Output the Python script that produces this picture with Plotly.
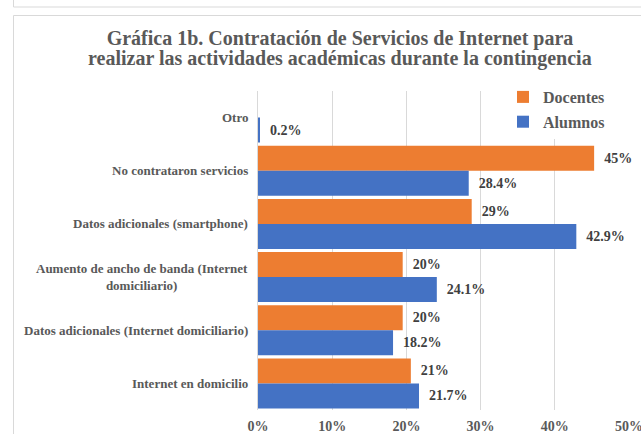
import plotly.graph_objects as go

# ---- data ----
categories = [
    "Otro",
    "No contrataron servicios",
    "Datos adicionales (smartphone)",
    "Aumento de ancho de banda (Internet<br>domiciliario)",
    "Datos adicionales (Internet domiciliario)",
    "Internet en domicilio",
]
docentes = [None, 45.3, 28.8, 19.5, 19.5, 20.6]
docentes_labels = ["", "45%", "29%", "20%", "20%", "21%"]
alumnos = [0.2, 28.4, 42.9, 24.1, 18.2, 21.7]
alumnos_labels = ["0.2%", "28.4%", "42.9%", "24.1%", "18.2%", "21.7%"]
x_ticks = [0, 10, 20, 30, 40, 50]
x_tick_labels = ["0%", "10%", "20%", "30%", "40%", "50%"]
title_lines = [
    "Gráfica 1b. Contratación de Servicios de Internet para",
    "realizar las actividades académicas durante la contingencia",
]

ORANGE = "#ED7D31"
BLUE = "#4472C4"
GRAY = "#595959"
SERIF = "'Liberation Serif', 'Times New Roman', 'DejaVu Serif', serif"

W, H = 641, 434
L, R, T, B = 258, 12, 91, 24

fig = go.Figure()
fig.add_trace(go.Bar(
    y=categories, x=docentes, name="Docentes", orientation="h",
    legendgroup="d",
    marker=dict(color=ORANGE, line=dict(width=0)),
    text=docentes_labels, texttemplate="\u00a0\u00a0%{text}",
    textposition="outside", constraintext="none", cliponaxis=False,
    textfont=dict(family=SERIF, size=14, color="#404040", weight="bold"),
    hoverinfo="skip",
))
fig.add_trace(go.Bar(
    y=categories, x=alumnos, name="Alumnos", orientation="h",
    legendgroup="a",
    marker=dict(color=BLUE, line=dict(width=0)),
    text=alumnos_labels, texttemplate="\u00a0\u00a0%{text}",
    textposition="outside", constraintext="none", cliponaxis=False,
    textfont=dict(family=SERIF, size=14, color="#404040", weight="bold"),
    hoverinfo="skip",
))

# category labels as annotations (centered multi-line)
for c in categories:
    fig.add_annotation(
        x=0, xref="paper", y=c, yref="y", xanchor="right", yanchor="middle",
        xshift=-8, text=c, showarrow=False, align="center",
        font=dict(family=SERIF, size=13, color=GRAY, weight="bold"),
    )

# pixel helpers
pw, ph = W - L - R, H - T - B
def px(x):
    return (x - L) / pw
def py(y):
    return (H - B - y) / ph

# second title line
fig.add_annotation(
    x=px(340), xref="paper", y=py(59), yref="paper",
    xanchor="center", yanchor="middle", showarrow=False,
    text=title_lines[1],
    font=dict(family=SERIF, size=20, color=GRAY, weight="bold"),
)

frame = [
    (13.5, 7, 641, 7),
    (13.5, 0, 13.5, 7),
    (13.5, 15.5, 641, 15.5),
    (13.5, 15.5, 13.5, 434),
]
for x0, y0, x1, y1 in frame:
    fig.add_shape(type="line", xref="paper", yref="paper",
                  x0=px(x0), y0=py(y0), x1=px(x1), y1=py(y1),
                  line=dict(color="#d9d9d9", width=1), layer="below")

fig.update_layout(
    width=W, height=H,
    margin=dict(l=L, r=R, t=T, b=B, autoexpand=False),
    paper_bgcolor="white", plot_bgcolor="white",
    barmode="group", bargap=0.06, bargroupgap=0,
    title=dict(
        text=title_lines[0],
        x=340 / W, xanchor="center", xref="container",
        y=1 - 37.5 / H, yanchor="middle", yref="container",
        font=dict(family=SERIF, size=20, color=GRAY, weight="bold"),
    ),
    xaxis=dict(
        range=[0, 50], tickvals=x_ticks, ticktext=x_tick_labels,
        showgrid=True, gridcolor="#d9d9d9", gridwidth=1,
        zeroline=False, showline=False, automargin=False,
        ticklabeloverflow="allow",
        ticks="outside", ticklen=3, tickcolor="rgba(0,0,0,0)",
        tickfont=dict(family=SERIF, size=14, color=GRAY, weight="bold"),
    ),
    yaxis=dict(
        autorange="reversed", showticklabels=False, showgrid=False,
        showline=True, linecolor="#d9d9d9", linewidth=1, zeroline=False,
        automargin=False,
    ),
    legend=dict(
        x=px(503), xanchor="left", y=py(80), yanchor="top",
        bgcolor="white", borderwidth=0,
        font=dict(family=SERIF, size=16, color=GRAY, weight="bold"),
        itemwidth=30, tracegroupgap=1, traceorder="grouped",
    ),
    showlegend=True,
)

fig.write_html("out.html")
